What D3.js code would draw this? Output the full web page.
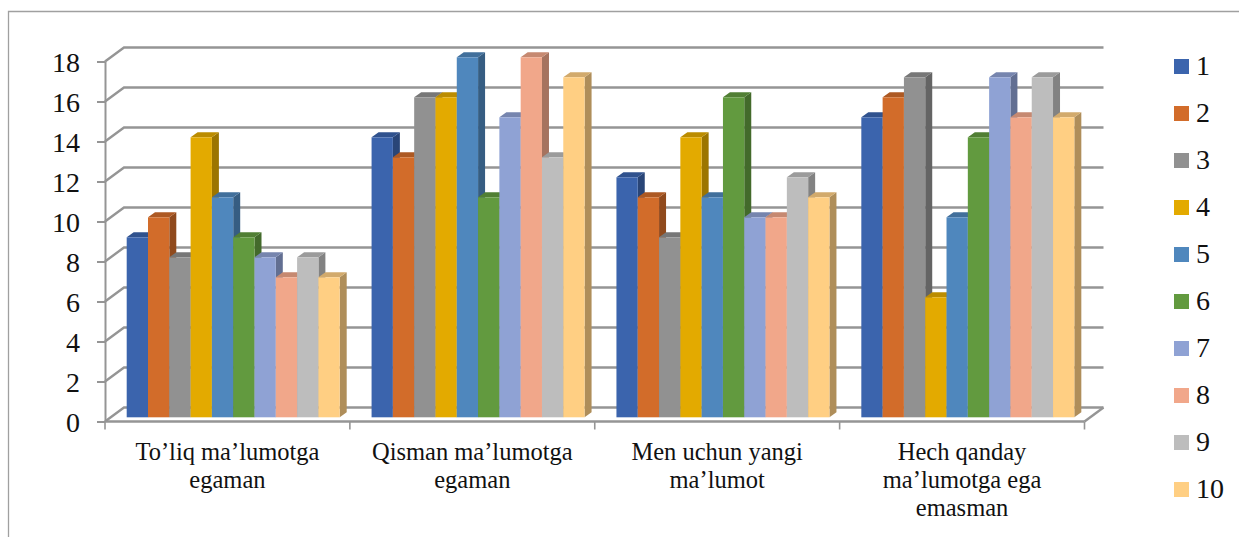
<!DOCTYPE html>
<html lang="en">
<head>
    <meta charset="UTF-8">
    <title>Chart</title>
    <script src="https://d3js.org/d3.v7.min.js"></script>
    <style>
        body { margin: 0; background: #fff; }
        svg { display: block; }
        text { font-family: "Liberation Serif", serif; fill: #111; }
    </style>
</head>
<body>
    <svg id="chart" width="1239" height="537"></svg>

    <script>
        const categories = ["To’liq ma’lumotga egaman", "Qisman ma’lumotga egaman", "Men uchun yangi ma’lumot", "Hech qanday ma’lumotga ega emasman"];
        const categoryLines = [
            ["To’liq ma’lumotga", "egaman"],
            ["Qisman ma’lumotga", "egaman"],
            ["Men uchun yangi", "ma’lumot"],
            ["Hech qanday", "ma’lumotga ega", "emasman"]
        ];
        const seriesNames = ["1", "2", "3", "4", "5", "6", "7", "8", "9", "10"];
        const seriesColors = ["#3b64ad", "#d26c2a", "#919191", "#e3aa00", "#4f87bd", "#629a3f", "#8fa2d4", "#f1a78a", "#bdbdbd", "#ffcf83"];
        const toliq = [9, 10, 8, 14, 11, 9, 8, 7, 8, 7];
        const qisman = [14, 13, 16, 16, 18, 11, 15, 18, 13, 17];
        const yangi = [12, 11, 9, 14, 11, 16, 10, 10, 12, 11];
        const hech = [15, 16, 17, 6, 10, 14, 17, 15, 17, 15];
        const yTicks = [0, 2, 4, 6, 8, 10, 12, 14, 16, 18];
        const groups = [toliq, qisman, yangi, hech];

        const svg = d3.select("#chart");

        // 3D look: walls are shifted back from the front axes
        const wallDx = 19, wallDy = -14;
        const barDx = 7, barDy = -5, barLift = 4.2;
        const gridColor = "#959595";

        const y = d3.scaleLinear().domain([0, 18]).range([421.5, 61.5]);
        const x = d3.scaleBand().domain(categories).range([105, 1084.5]);
        const xSeries = d3.scaleBand().domain(seriesNames).range([21.7, 234.7]);

        // chart frame
        svg.append("path")
            .attr("d", "M8.5,537V11.5H1239")
            .attr("fill", "none")
            .attr("stroke", "#a0a0a0")
            .attr("stroke-width", 1.3);

        // gridlines over left and back wall
        const grid = svg.append("g")
            .attr("fill", "none")
            .attr("stroke", gridColor)
            .attr("stroke-width", 2.4);

        grid.selectAll("path")
            .data(yTicks)
            .join("path")
            .attr("d", d => d3.line()([
                [x.range()[0], y(d)],
                [x.range()[0] + wallDx, y(d) + wallDy],
                [x.range()[1] + wallDx, y(d) + wallDy]
            ]));

        // floor right edge
        grid.append("line")
            .attr("x1", x.range()[1]).attr("y1", y(0))
            .attr("x2", x.range()[1] + wallDx).attr("y2", y(0) + wallDy);

        // y axis
        const yAxis = svg.append("g")
            .attr("transform", `translate(${x.range()[0]},0)`)
            .call(d3.axisLeft(y).tickValues(yTicks).tickSize(8).tickSizeOuter(0).tickPadding(17));
        yAxis.selectAll("line, path").attr("stroke", gridColor).attr("stroke-width", 2);
        yAxis.selectAll("text").attr("font-size", 28).attr("fill", "#111")
            .attr("font-family", "Liberation Serif").attr("dy", "0.34em");

        // x axis, ticks at the band edges
        const xEdges = categories.map(c => x(c)).concat(x.range()[1]);
        svg.append("line")
            .attr("x1", x.range()[0]).attr("x2", x.range()[1])
            .attr("y1", y(0)).attr("y2", y(0))
            .attr("stroke", gridColor).attr("stroke-width", 2.6);
        svg.append("g").selectAll("line")
            .data(xEdges)
            .join("line")
            .attr("x1", d => d).attr("x2", d => d)
            .attr("y1", y(0)).attr("y2", y(0) + 8)
            .attr("stroke", gridColor).attr("stroke-width", 1.6);

        // bars: side, top and front face for each
        function shade(color, k) {
            return d3.rgb(color).darker(k).formatHex();
        }

        categories.forEach((cat, i) => {
            const g = svg.append("g").attr("transform", `translate(${x(cat)},0)`);
            groups[i].forEach((v, j) => {
                const name = seriesNames[j];
                const x0 = xSeries(name);
                const w = xSeries.bandwidth();
                const yTop = y(v) - barLift;
                const yBase = y(0) - barLift;
                g.append("path")
                    .attr("d", d3.line()([[x0 + w, yTop], [x0 + w + barDx, yTop + barDy], [x0 + w + barDx, yBase + barDy], [x0 + w, yBase]]))
                    .attr("fill", shade(seriesColors[j], 1.05));
                g.append("path")
                    .attr("d", d3.line()([[x0, yTop], [x0 + barDx, yTop + barDy], [x0 + w + barDx, yTop + barDy], [x0 + w, yTop]]))
                    .attr("fill", shade(seriesColors[j], 0.55));
                g.append("rect")
                    .attr("x", x0)
                    .attr("y", yTop)
                    .attr("width", w)
                    .attr("height", yBase - yTop)
                    .attr("fill", seriesColors[j]);
            });

            // category label
            g.append("text")
                .attr("x", x.bandwidth() / 2)
                .attr("text-anchor", "middle")
                .attr("font-size", 24.5)
                .selectAll("tspan")
                .data(categoryLines[i])
                .join("tspan")
                .attr("x", x.bandwidth() / 2)
                .attr("y", (d, k) => 460 + k * 28)
                .text(d => d);
        });

        // legend
        const legend = d3.scaleLinear().domain([0, 9]).range([66.5, 489.5]);
        const legendItem = svg.append("g").selectAll("g")
            .data(seriesNames)
            .join("g")
            .attr("transform", (d, i) => `translate(1174,${legend(i)})`);
        legendItem.append("rect")
            .attr("y", -7.5)
            .attr("width", 15)
            .attr("height", 15)
            .attr("fill", (d, i) => seriesColors[i]);
        legendItem.append("text")
            .attr("x", 22)
            .attr("dy", "0.3em")
            .attr("font-size", 28)
            .text(d => d);
    </script>
</body>
</html>
